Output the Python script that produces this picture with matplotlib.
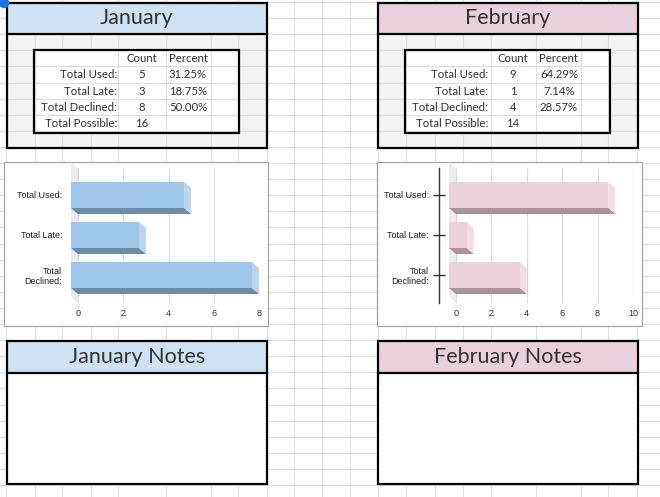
import matplotlib.pyplot as plt
from matplotlib.patches import Rectangle, Polygon, Circle

W, H = 660, 497

# data read from the sheet
categories = ["Total Used:", "Total Late:", "Total\nDeclined:"]
table_rows = ["Total Used:", "Total Late:", "Total Declined:", "Total Possible:"]
jan_counts = [5, 3, 8, 16]
jan_pct = ["31.25%", "18.75%", "50.00%", ""]
feb_counts = [9, 1, 4, 14]
feb_pct = ["64.29%", "7.14%", "28.57%", ""]
jan_ticks = [0, 2, 4, 6, 8]
feb_ticks = [0, 2, 4, 6, 8, 10]

# spreadsheet grid (pixels)
grid_cols = [6, 35, 62, 91, 118, 166, 211, 238, 267, 294, 322, 350,
             378, 406, 435, 463, 491, 536, 581, 608, 637]
grid_rows = [2 + 16.1 * k for k in range(31)]

TXT = "#333333"
GRIDC = "#dedede"
TFS = 8.2

fig = plt.figure(figsize=(6.6, 4.97), dpi=100)
bg = fig.add_axes([0, 0, 1, 1])
bg.set_xlim(0, W)
bg.set_ylim(H, 0)
bg.axis("off")


def rect(x0, y0, x1, y1, **kw):
    bg.add_patch(Rectangle((x0, y0), x1 - x0, y1 - y0, **kw))


# light gray bodies behind the tables, white tables
for dx in [0, 371]:
    rect(7 + dx, 34, 267 + dx, 148, facecolor="#f3f3f3", edgecolor="none", zorder=0)
    rect(34 + dx, 50, 239 + dx, 133, facecolor="white", edgecolor="none", zorder=0)

# grid lines (label cells in tables are merged)
merged_x = [62, 91, 435, 463]
for x in grid_cols:
    if x in merged_x:
        bg.plot([x, x], [0, 50], color=GRIDC, lw=0.8, zorder=1)
        bg.plot([x, x], [133, H], color=GRIDC, lw=0.8, zorder=1)
    else:
        bg.plot([x, x], [0, H], color=GRIDC, lw=0.8, zorder=1)
for y in grid_rows:
    bg.plot([0, W], [y, y], color=GRIDC, lw=0.8, zorder=1)

# month blocks
blocks = [
    (0, "January", "#cfe2f3", jan_counts, jan_pct),
    (371, "February", "#e8d1dc", feb_counts, feb_pct),
]
for dx, name, head, counts, pct in blocks:
    # header
    rect(7 + dx, 3, 267 + dx, 34, facecolor=head, edgecolor="none", zorder=2)
    bg.text(137 + dx, 18.5, name, ha="center", va="center", fontsize=15.5,
            family="Lato", color=TXT, zorder=4)
    rect(7 + dx, 3, 267 + dx, 148, facecolor="none", edgecolor="black", lw=1.6, zorder=3)
    bg.plot([7 + dx, 267 + dx], [34, 34], color="black", lw=1.6, zorder=3)
    rect(34 + dx, 50, 239 + dx, 133, facecolor="none", edgecolor="black", lw=1.6, zorder=3)

    # table
    bg.text(142 + dx, 59, "Count", ha="center", va="center", fontsize=TFS,
            family="Lato", color=TXT, zorder=4)
    bg.text(188 + dx, 59, "Percent", ha="center", va="center", fontsize=TFS,
            family="Lato", color=TXT, zorder=4)
    for i, lab in enumerate(table_rows):
        y = 75 + 16.1 * i
        bg.text(117 + dx, y, lab, ha="right", va="center", fontsize=TFS,
                family="Lato", color=TXT, zorder=4)
        bg.text(142 + dx, y, str(counts[i]), ha="center", va="center", fontsize=TFS,
                family="Lato", color=TXT, zorder=4)
        bg.text(188 + dx, y, pct[i], ha="center", va="center", fontsize=TFS,
                family="Lato", color=TXT, zorder=4)

    # notes
    rect(7 + dx, 373, 267 + dx, 484, facecolor="white", edgecolor="none", zorder=2)
    rect(7 + dx, 341, 267 + dx, 373, facecolor=head, edgecolor="none", zorder=2)
    bg.text(137 + dx, 357, name + " Notes", ha="center", va="center", fontsize=15.5,
            family="Lato", color=TXT, zorder=4)
    rect(7 + dx, 341, 267 + dx, 484, facecolor="none", edgecolor="black", lw=1.6, zorder=3)
    bg.plot([7 + dx, 267 + dx], [373, 373], color="black", lw=1.6, zorder=3)

# chart frames
rect(4, 162, 268, 326, facecolor="white", edgecolor="#a6a6a6", lw=0.9, zorder=2)
rect(377, 162, 642, 326, facecolor="white", edgecolor="#a6a6a6", lw=0.9, zorder=2)

# selection handle
bg.add_patch(Circle((4, 3), 4.5, color="#1a73e8", zorder=5))


def bar_chart(px, values, ticks, face, side, dark, axis_line):
    x0, y0, x1, y1 = px
    ax = fig.add_axes([x0 / W, 1 - y1 / H, (x1 - x0) / W, (y1 - y0) / H])
    ax.set_facecolor("none")
    for s in ["top", "right", "bottom"]:
        ax.spines[s].set_visible(False)
    if axis_line:
        ax.spines["left"].set_position(("outward", 12))
        ax.spines["left"].set_color("#333333")
        ax.spines["left"].set_linewidth(1)
        ax.spines["left"].set_zorder(5)
    else:
        ax.spines["left"].set_visible(False)

    xmax = ticks[-1]
    ax.set_xlim(0, xmax)
    ax.set_ylim(2.55, -0.825)
    ox = 7 * xmax / (x1 - x0)   # 3d depth, in data units
    oy = 6 / 40
    h = 0.65
    lo, hi = ax.get_ylim()

    # side wall
    ax.add_patch(Polygon([(-ox, hi - oy), (0, hi), (0, lo), (-ox, lo - oy)],
                         closed=True, facecolor="#ececec", edgecolor="none",
                         clip_on=False, zorder=1))
    idx = list(range(len(values)))
    for i, v in zip(idx, values):
        top, bot = i - h / 2, i + h / 2
        ax.add_patch(Polygon([(-ox, bot - oy), (v - ox, bot - oy), (v, bot), (0, bot)],
                             closed=True, facecolor=dark, edgecolor="none",
                             clip_on=False, zorder=3))
        ax.add_patch(Polygon([(v - ox, top - oy), (v, top), (v, bot), (v - ox, bot - oy)],
                             closed=True, facecolor=side, edgecolor="none",
                             clip_on=False, zorder=3))
    ax.barh([i - oy for i in idx], values, height=h, left=-ox, color=face,
            clip_on=False, zorder=4)

    ax.set_xticks(ticks)
    ax.grid(axis="x", color="#d9d9d9", lw=0.8)
    ax.set_axisbelow(True)
    ax.tick_params(axis="x", length=0, pad=4.5, labelsize=6.5, labelcolor="#333333")
    ax.set_yticks([i - oy for i in idx])
    ax.set_yticklabels(categories)
    if axis_line:
        ax.tick_params(axis="y", direction="inout", length=8, width=1,
                       color="#333333", pad=3.5, labelsize=6.5, labelcolor="#222222")
    else:
        ax.tick_params(axis="y", length=0, pad=11.5, labelsize=6.5, labelcolor="#222222")
    for lab in ax.get_xticklabels() + ax.get_yticklabels():
        lab.set_family("Liberation Sans")
    return ax


bar_chart((78, 168, 259, 303), jan_counts[:3], jan_ticks,
          "#9fc5e8", "#b9d5ee", "#6d8aa6", False)
bar_chart((456, 168, 633, 303), feb_counts[:3], feb_ticks,
          "#ead1dc", "#f1dee6", "#a8939c", True)

fig.savefig("out.png", dpi=100)
